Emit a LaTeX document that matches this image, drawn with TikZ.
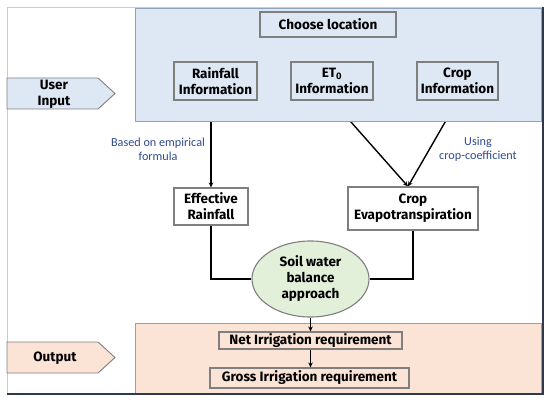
\documentclass[tikz,border=0pt]{standalone}
\usepackage{fontspec}
\setmainfont{Fira Sans}
\newfontfamily\notefont{Carlito}
\usetikzlibrary{positioning, arrows.meta, shapes.geometric}
\definecolor{panelblue}{HTML}{DEE8F4}
\definecolor{panelpeach}{HTML}{FBE3D5}
\definecolor{soilgreen}{HTML}{E2EFD9}
\definecolor{boxgray}{HTML}{7F7F7F}
\definecolor{panelline}{HTML}{8FA3BD}
\definecolor{noteblue}{HTML}{2F4B8C}
\definecolor{framedark}{HTML}{2E3A4C}
\pgfdeclarelayer{lines}
\pgfdeclarelayer{panels}
\pgfsetlayers{lines,panels,main}

\begin{document}
\begin{tikzpicture}[x=1pt, y=-1pt,
  box/.style={draw=boxgray, line width=1.1pt, font=\fontsize{13.5}{16}\selectfont\bfseries, align=center, inner sep=0pt},
  link/.style={line width=1.4pt},
  arr/.style={line width=1.4pt, -{Stealth[length=5pt, width=4.5pt]}},
  note/.style={text=noteblue, font=\notefont\fontsize{12.2}{13.5}\selectfont, align=center},
  tag/.style={fill=#1, draw=boxgray, line width=0.9pt}]
\useasboundingbox (0,0) rectangle (550,404);
% outer frame
\draw[black!20, line width=0.6pt] (7,394) -- (7,7) -- (543,7);
\draw[framedark, line width=1.2pt] (543,7) -- (543,394) -- (7,394);
% panels
\begin{pgfonlayer}{panels}
\draw[fill=panelblue, draw=panelline, line width=0.8pt] (135,8) rectangle (541,121);
\draw[fill=panelpeach, draw=panelline, line width=0.8pt] (135,323) rectangle (541,393);
\end{pgfonlayer}
% side tags
\draw[tag=panelblue] (7,78) -- (98,78) -- (115,93.5) -- (98,109) -- (7,109) -- cycle;
\node[box, draw=none] (user) at (54,94) {User\\Input};
\draw[tag=panelpeach] (7,342) -- (98,342) -- (115,357.5) -- (98,373) -- (7,373) -- cycle;
\node[box, draw=none] (out) at (55,358) {Output};
% input boxes
\node[box, minimum width=136, minimum height=25] (choose) at (328,24.5) {Choose location};
\node[box, minimum width=83, minimum height=38] (rain) at (215.5,81) {Rainfall\\Information};
\node[box, minimum width=82, minimum height=38] (et0) at (332,81) {ET$_{\mathbf{0}}$\\Information};
\node[box, minimum width=81, minimum height=38] (cropinfo) at (457.5,81) {Crop\\Information};
% middle
\node[box, fill=white, minimum width=74, minimum height=37] (effrain) at (211,206.5) {Effective\\Rainfall};
\node[box, fill=white, minimum width=130, minimum height=43] (cropet) at (413,208.5) {Crop\\Evapotranspiration};
\node[box, ellipse, fill=soilgreen, minimum width=117, minimum height=76] (soil) at (310.5,279) {Soil water\\balance\\approach};
% output boxes
\node[box, minimum width=183, minimum height=17] (net) at (310.5,340.5) {Net Irrigation requirement};
\node[box, minimum width=199, minimum height=20] (gross) at (309.5,378) {Gross Irrigation requirement};
\coordinate (meet) at ([xshift=-5pt]cropet.north);
% connectors
\begin{pgfonlayer}{lines}
\draw[arr] (effrain.north |- rain.south) -- (effrain.north);
\draw[arr] (et0.south) -- (meet);
\draw[arr] (cropinfo.south) -- (meet);
\end{pgfonlayer}
\draw[link] (effrain.south) |- (soil.west);
\draw[link] (cropet.south) |- (soil.east);
\draw[arr] (soil.south) -- (net.north);
\draw[arr] (net.south) -- (net.south |- gross.north);
% notes
\node[note] (empirical) at (158,149.5) {Based on empirical\\formula};
\node[note] (coeff) at (478,149.5) {Using\\crop-coefficient};
\end{tikzpicture}
\end{document}
